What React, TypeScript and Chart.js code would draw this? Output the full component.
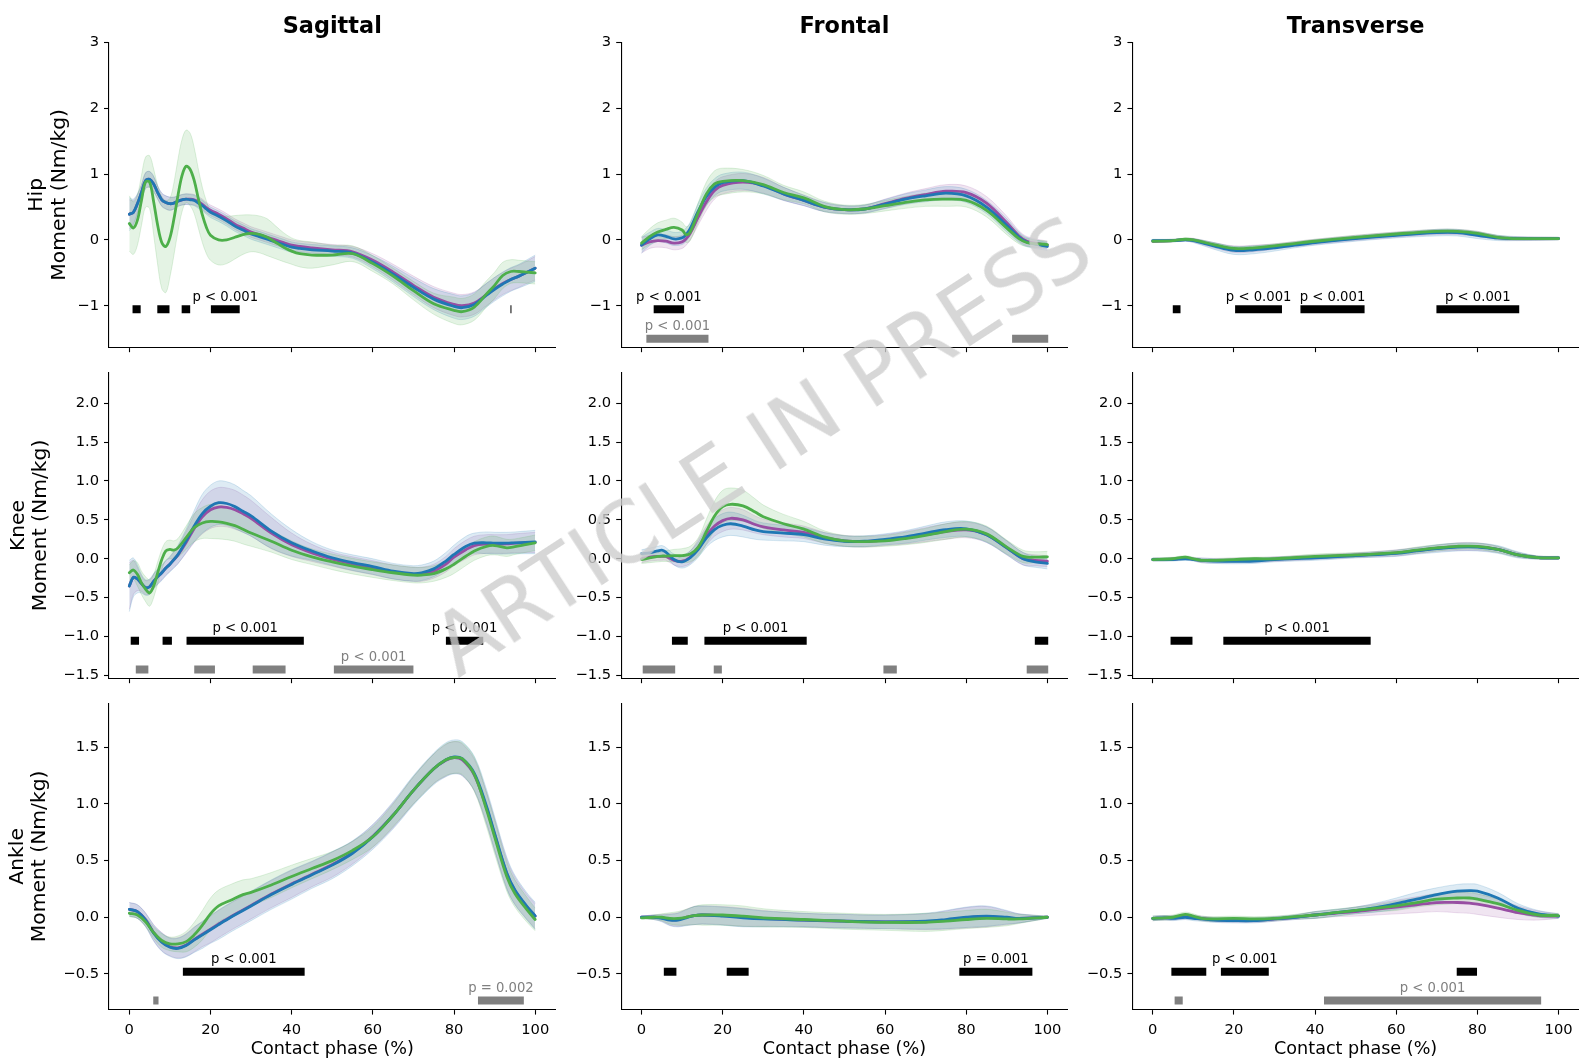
import React, { useEffect, useRef } from 'react';
import { Chart, registerables } from 'chart.js';

Chart.register(...registerables);

const FONT = '"DejaVu Sans", Verdana, sans-serif';
const PURPLE = '#984ea3';
const BLUE = '#1f77b4';
const GREEN = '#4daf4a';
const GRAYBAR = '#808080';

// ---------- Tick / axis definitions ----------
const COL_TITLES = ['Sagittal', 'Frontal', 'Transverse'];
const ROW_LABELS = [['Hip', 'Moment (Nm/kg)'], ['Knee', 'Moment (Nm/kg)'], ['Ankle', 'Moment (Nm/kg)']];
const X_LABEL = 'Contact phase (%)';
const X_TICKS = [0, 20, 40, 60, 80, 100];
const Y_TICKS_HIP = [-1, 0, 1, 2, 3];
const Y_TICKS_KNEE = [-1.5, -1, -0.5, 0, 0.5, 1, 1.5, 2];
const Y_TICKS_ANKLE = [-0.5, 0, 0.5, 1, 1.5];
const Y_MIN = [-1.63, -1.535, -0.815];
const Y_MAX = [3.0, 2.39, 1.89];
const BLACK_Y = [-1.055, -1.055, -0.48];
const GRAY_Y = [-1.5, -1.425, -0.734];

// ---------- Hip sagittal ----------
const HS_X = [0,1,2,3,4,5,6,7,8,9,10,11,12,13,14,15,16,17,18,19,20,22,24,26,28,30,32,34,36,38,40,42,45,50,55,60,65,70,75,80,82,85,88,90,92,94,96,98,100];
const HS_BLU = [0.39,0.42,0.55,0.72,0.90,0.92,0.85,0.72,0.61,0.57,0.55,0.56,0.59,0.61,0.62,0.61,0.60,0.56,0.52,0.47,0.42,
  0.36,0.29,0.21,0.15,0.09,0.05,0.01,-0.03,-0.07,-0.11,-0.13,
  -0.15,-0.17,-0.20,-0.34,-0.52,-0.72,-0.90,-1.01,
  -1.03,-0.98,-0.84,-0.75,-0.67,-0.60,-0.55,-0.49,-0.43];
const HS_PUR = [0.39,0.42,0.55,0.72,0.90,0.92,0.85,0.72,0.61,0.57,0.55,0.56,0.59,0.61,0.62,0.62,0.61,0.58,0.54,0.49,0.45,
  0.39,0.32,0.24,0.18,0.12,0.08,0.04,0.0,-0.04,-0.08,-0.10,
  -0.12,-0.15,-0.18,-0.31,-0.49,-0.69,-0.87,-0.98,
  -1.0,-0.96,-0.83,-0.74,-0.66,-0.6,-0.55,-0.49,-0.43];
const HS_GRN = [0.25,0.18,0.30,0.60,0.88,0.88,0.58,0.22,-0.04,-0.10,0.03,0.32,0.68,0.98,1.12,1.07,0.90,0.63,0.38,0.19,0.07,
  0.0,0.0,0.04,0.08,0.10,0.085,0.04,-0.035,-0.11,-0.17,-0.21,
  -0.23,-0.23,-0.21,-0.36,-0.55,-0.77,-0.97,-1.07,
  -1.09,-1.02,-0.82,-0.69,-0.54,-0.48,-0.48,-0.49,-0.50];
const HS_SD_BLU = [0.25,0.2,0.15,0.12,0.12,0.12,0.12,0.1,0.1,0.1,0.1,0.09,0.08,0.08,0.08,0.08,0.08,0.08,0.08,0.08,0.08,
  0.08,0.08,0.08,0.08,0.08,0.08,0.08,0.08,0.08,0.08,0.08,
  0.08,0.08,0.08,0.1,0.12,0.14,0.16,0.18,
  0.18,0.18,0.18,0.18,0.18,0.18,0.18,0.19,0.2];
const HS_SD_PUR = [0.22,0.18,0.14,0.12,0.12,0.12,0.11,0.1,0.1,0.1,0.1,0.09,0.08,0.08,0.08,0.08,0.08,0.08,0.08,0.08,0.08,
  0.08,0.08,0.08,0.08,0.08,0.08,0.08,0.08,0.08,0.08,0.08,
  0.08,0.08,0.08,0.1,0.12,0.14,0.16,0.17,
  0.17,0.17,0.17,0.17,0.17,0.17,0.17,0.17,0.18];
const HS_SD_GRN = [0.42,0.40,0.38,0.38,0.38,0.40,0.50,0.60,0.70,0.70,0.60,0.55,0.55,0.55,0.55,0.55,0.50,0.45,0.42,0.40,0.38,
  0.38,0.36,0.33,0.30,0.28,0.28,0.28,0.25,0.22,0.20,0.20,
  0.20,0.15,0.12,0.12,0.12,0.14,0.16,0.20,
  0.20,0.20,0.20,0.20,0.20,0.18,0.17,0.17,0.17];
const HS_BLACK = [[0.8,2.8],[6.9,9.9],[12.9,15.0],[20.1,27.2],[93.9,94.15]];
const HS_GRAY: number[][] = [];
const HS_TEXT = [{ x: 23.65, label: 'p < 0.001', gray: false }];

// ---------- Hip frontal ----------
const HF_X = [0,2,4,6,8,10,11,12,14,16,18,20,25,30,35,40,45,50,55,60,65,70,75,80,85,90,93,95,100];
const HF_BLU = [-0.08,0.015,0.075,0.055,0.015,0.03,0.08,0.17,0.44,0.66,0.8,0.87,0.9,0.82,0.7,0.6,0.5,0.46,0.47,0.545,0.62,0.67,0.71,0.67,0.5,0.22,0.04,-0.035,-0.1];
const HF_PUR = [-0.08,-0.03,-0.01,-0.02,-0.05,-0.03,0.02,0.1,0.35,0.58,0.75,0.83,0.88,0.83,0.7,0.6,0.5,0.46,0.47,0.55,0.63,0.69,0.74,0.72,0.56,0.26,0.06,-0.02,-0.08];
const HF_GRN = [-0.05,0.05,0.12,0.16,0.19,0.15,0.08,0.12,0.42,0.7,0.85,0.89,0.9,0.84,0.72,0.64,0.51,0.46,0.47,0.52,0.57,0.61,0.62,0.6,0.45,0.18,0.02,-0.04,-0.07];
const HF_SD_BLU = [0.12,0.1,0.1,0.1,0.1,0.1,0.1,0.1,0.12,0.13,0.13,0.13,0.13,0.12,0.1,0.08,0.07,0.06,0.06,0.07,0.08,0.09,0.1,0.1,0.1,0.1,0.08,0.07,0.06];
const HF_SD_PUR = [0.12,0.1,0.1,0.1,0.1,0.1,0.1,0.1,0.12,0.13,0.13,0.13,0.13,0.12,0.1,0.08,0.07,0.06,0.06,0.07,0.08,0.09,0.1,0.1,0.1,0.1,0.08,0.07,0.06];
const HF_SD_GRN = [0.1,0.12,0.14,0.14,0.14,0.12,0.12,0.13,0.15,0.18,0.2,0.2,0.17,0.14,0.11,0.09,0.08,0.07,0.07,0.08,0.09,0.1,0.11,0.1,0.1,0.1,0.08,0.06,0.05];
const HF_BLACK = [[3.0,10.5]];
const HF_GRAY = [[1.2,16.5],[91.3,100.2]];
const HF_TEXT = [{ x: 6.75, label: 'p < 0.001', gray: false }, { x: 8.85, label: 'p < 0.001', gray: true }];

// ---------- Hip transverse ----------
const HT_X = [0,5,8,10,15,20,25,30,35,40,50,60,70,75,80,85,90,100];
const HT_BLU = [-0.01,-0.01,0.0,-0.01,-0.09,-0.16,-0.15,-0.12,-0.08,-0.04,0.02,0.07,0.11,0.11,0.07,0.03,0.02,0.02];
const HT_PUR = [-0.02,-0.01,0.005,-0.005,-0.08,-0.14,-0.13,-0.1,-0.065,-0.03,0.03,0.08,0.12,0.12,0.09,0.035,0.02,0.02];
const HT_GRN = [-0.02,-0.01,0.01,0.0,-0.07,-0.13,-0.12,-0.09,-0.055,-0.02,0.04,0.09,0.13,0.13,0.1,0.04,0.02,0.02];
const HT_SD_BLU = [0.02,0.02,0.02,0.03,0.05,0.06,0.06,0.05,0.04,0.04,0.04,0.04,0.05,0.05,0.05,0.04,0.03,0.02];
const HT_SD_PUR = [0.02,0.02,0.02,0.03,0.04,0.05,0.05,0.04,0.04,0.04,0.04,0.04,0.04,0.04,0.04,0.03,0.03,0.02];
const HT_SD_GRN = [0.02,0.02,0.02,0.02,0.03,0.03,0.03,0.03,0.03,0.03,0.03,0.03,0.03,0.03,0.03,0.03,0.02,0.02];
const HT_BLACK = [[4.95,6.85],[20.3,31.85],[36.4,52.2],[69.9,90.3]];
const HT_GRAY: number[][] = [];
const HT_TEXT = [{ x: 26.1, label: 'p < 0.001', gray: false }, { x: 44.3, label: 'p < 0.001', gray: false }, { x: 80.1, label: 'p < 0.001', gray: false }];

// ---------- Knee sagittal ----------
const KS_X = [0,1,2,3,4,5,6,7,8,9,10,11,12,14,16,18,20,22,24,26,28,30,35,40,45,50,55,60,65,70,72,75,78,80,83,85,88,90,93,95,100];
const KS_BLU = [-0.35,-0.24,-0.26,-0.32,-0.37,-0.36,-0.29,-0.23,-0.18,-0.12,-0.07,-0.01,0.055,
  0.23,0.42,0.58,0.675,0.72,0.71,0.67,0.61,0.55,
  0.355,0.205,0.1,0.013,-0.05,-0.1,-0.16,-0.19,
  -0.18,-0.13,-0.03,0.055,0.16,0.2,0.205,0.2,0.2,0.205,0.215];
const KS_PUR = [-0.35,-0.24,-0.26,-0.32,-0.37,-0.36,-0.29,-0.23,-0.18,-0.12,-0.07,-0.01,0.05,
  0.21,0.39,0.54,0.63,0.665,0.66,0.63,0.58,0.52,
  0.33,0.18,0.075,-0.005,-0.065,-0.115,-0.17,-0.2,
  -0.2,-0.16,-0.07,0.02,0.12,0.17,0.19,0.19,0.19,0.2,0.21];
const KS_GRN = [-0.18,-0.145,-0.2,-0.31,-0.39,-0.44,-0.35,-0.18,-0.01,0.1,0.12,0.11,0.14,
  0.27,0.4,0.46,0.48,0.475,0.455,0.425,0.38,0.33,
  0.225,0.11,0.025,-0.04,-0.095,-0.14,-0.18,-0.21,
  -0.21,-0.19,-0.13,-0.07,0.035,0.1,0.16,0.17,0.14,0.155,0.205];
const KS_SD_BLU = [0.33,0.25,0.18,0.12,0.1,0.1,0.1,0.1,0.1,0.1,0.1,0.11,0.12,
  0.15,0.2,0.25,0.27,0.28,0.28,0.28,0.27,0.26,
  0.22,0.17,0.12,0.1,0.1,0.1,0.1,0.1,
  0.1,0.1,0.11,0.12,0.13,0.13,0.14,0.14,0.14,0.14,0.15];
const KS_SD_PUR = [0.3,0.22,0.15,0.1,0.09,0.09,0.09,0.09,0.09,0.09,0.09,0.1,0.11,
  0.14,0.18,0.22,0.24,0.25,0.25,0.25,0.24,0.23,
  0.2,0.15,0.11,0.09,0.09,0.09,0.09,0.09,
  0.09,0.09,0.1,0.11,0.12,0.12,0.12,0.12,0.12,0.12,0.13];
const KS_SD_GRN = [0.1,0.12,0.15,0.15,0.16,0.17,0.15,0.14,0.13,0.12,0.12,0.12,0.12,
  0.15,0.18,0.2,0.22,0.22,0.21,0.2,0.19,0.17,
  0.14,0.12,0.1,0.1,0.1,0.1,0.1,0.1,
  0.1,0.1,0.11,0.12,0.12,0.12,0.12,0.12,0.11,0.1,0.1];
const KS_BLACK = [[0.35,2.4],[8.2,10.5],[14.1,43.0],[78.0,87.2]];
const KS_GRAY = [[1.6,4.7],[16.0,21.1],[30.4,38.5],[50.4,70.0]];
const KS_TEXT = [{ x: 28.55, label: 'p < 0.001', gray: false }, { x: 82.6, label: 'p < 0.001', gray: false }, { x: 60.2, label: 'p < 0.001', gray: true }];

// ---------- Knee frontal ----------
const KF_X = [0,2,4,5,6,8,10,12,14,16,18,20,22,25,28,30,35,40,45,50,55,60,65,70,75,80,85,90,94,97,100];
const KF_BLU = [0.065,0.077,0.1,0.11,0.085,-0.01,-0.04,0.013,0.12,0.27,0.375,0.43,0.45,0.42,0.37,0.35,0.33,0.31,0.255,0.225,0.225,0.25,0.28,0.33,0.375,0.385,0.31,0.14,0.0,-0.04,-0.06];
const KF_PUR = [0.0,0.02,0.03,0.03,0.03,-0.02,-0.03,0.02,0.15,0.3,0.42,0.49,0.52,0.5,0.44,0.41,0.37,0.34,0.27,0.23,0.22,0.24,0.27,0.31,0.35,0.37,0.31,0.14,0.0,-0.02,-0.03];
const KF_GRN = [-0.01,0.01,0.03,0.035,0.035,0.04,0.04,0.06,0.15,0.35,0.55,0.67,0.7,0.68,0.6,0.54,0.45,0.38,0.28,0.23,0.22,0.23,0.26,0.3,0.35,0.38,0.32,0.15,0.03,0.02,0.025];
const KF_SD_BLU = [0.05,0.06,0.06,0.06,0.06,0.07,0.08,0.09,0.1,0.12,0.14,0.15,0.15,0.14,0.12,0.11,0.1,0.09,0.08,0.07,0.07,0.07,0.08,0.09,0.1,0.1,0.1,0.09,0.08,0.07,0.07];
const KF_SD_PUR = [0.05,0.05,0.05,0.05,0.05,0.06,0.07,0.08,0.1,0.12,0.13,0.14,0.14,0.13,0.11,0.1,0.09,0.08,0.07,0.07,0.07,0.07,0.08,0.09,0.1,0.1,0.1,0.09,0.08,0.07,0.07];
const KF_SD_GRN = [0.05,0.06,0.07,0.07,0.07,0.08,0.09,0.1,0.12,0.16,0.19,0.21,0.21,0.2,0.17,0.15,0.12,0.1,0.08,0.07,0.07,0.07,0.08,0.09,0.1,0.1,0.1,0.09,0.08,0.07,0.07];
const KF_BLACK = [[7.5,11.4],[15.5,40.7],[96.9,100.2]];
const KF_GRAY = [[0.3,8.3],[17.8,19.8],[59.6,62.9],[94.9,100.2]];
const KF_TEXT = [{ x: 28.1, label: 'p < 0.001', gray: false }];

// ---------- Knee transverse ----------
const KT_X = [0,5,8,10,12,15,20,25,30,40,50,60,65,70,75,80,85,90,95,100];
const KT_BLU = [-0.01,-0.01,0.0,-0.01,-0.02,-0.03,-0.035,-0.03,-0.01,0.01,0.04,0.07,0.1,0.13,0.15,0.15,0.12,0.05,0.015,0.01];
const KT_PUR = [-0.01,-0.005,0.01,-0.005,-0.02,-0.025,-0.02,-0.015,-0.005,0.02,0.045,0.075,0.105,0.135,0.155,0.155,0.12,0.05,0.015,0.01];
const KT_GRN = [-0.01,0.0,0.02,0.0,-0.02,-0.02,-0.01,0.0,0.0,0.03,0.05,0.08,0.11,0.14,0.16,0.16,0.12,0.05,0.015,0.01];
const KT_SD_BLU = [0.02,0.02,0.02,0.02,0.03,0.03,0.03,0.03,0.03,0.03,0.03,0.04,0.04,0.05,0.05,0.05,0.05,0.04,0.02,0.02];
const KT_SD_PUR = [0.02,0.02,0.02,0.02,0.03,0.03,0.03,0.03,0.03,0.03,0.03,0.04,0.04,0.04,0.05,0.05,0.04,0.03,0.02,0.02];
const KT_SD_GRN = [0.02,0.02,0.02,0.02,0.02,0.02,0.02,0.02,0.02,0.03,0.03,0.03,0.04,0.04,0.04,0.04,0.04,0.03,0.02,0.02];
const KT_BLACK = [[4.4,9.8],[17.4,53.7]];
const KT_GRAY: number[][] = [];
const KT_TEXT = [{ x: 35.55, label: 'p < 0.001', gray: false }];

// ---------- Ankle sagittal ----------
const AS_X = [0,2,4,6,8,10,12,14,16,18,20,22,25,28,30,35,40,45,50,55,60,65,70,75,78,80,82,85,88,90,93,95,98,100];
const AS_BLU = [0.07,0.05,-0.024,-0.14,-0.22,-0.265,-0.275,-0.25,-0.2,-0.155,
  -0.11,-0.065,0.0,0.06,0.1,0.2,0.29,0.375,0.46,0.565,
  0.71,0.9,1.12,1.31,1.39,1.415,1.4,1.27,0.98,0.74,
  0.39,0.24,0.094,0.012];
const AS_PUR = [0.07,0.05,-0.02,-0.135,-0.215,-0.26,-0.27,-0.245,-0.195,-0.15,
  -0.105,-0.06,0.005,0.065,0.105,0.205,0.295,0.38,0.465,0.57,
  0.715,0.9,1.12,1.31,1.385,1.41,1.39,1.255,0.965,0.73,
  0.385,0.235,0.09,0.01];
const AS_GRN = [0.035,0.02,-0.04,-0.135,-0.205,-0.235,-0.235,-0.215,-0.155,-0.07,
  0.03,0.1,0.15,0.2,0.22,0.285,0.36,0.43,0.5,0.59,
  0.71,0.9,1.12,1.31,1.39,1.41,1.4,1.26,0.95,0.71,
  0.36,0.21,0.065,-0.02];
const AS_SD_BLU = [0.06,0.06,0.06,0.07,0.08,0.08,0.09,0.1,0.11,0.12,
  0.12,0.13,0.13,0.13,0.13,0.13,0.13,0.12,0.12,0.11,
  0.11,0.12,0.13,0.14,0.15,0.15,0.15,0.15,0.15,0.15,
  0.14,0.13,0.12,0.12];
const AS_SD_PUR = [0.06,0.06,0.06,0.07,0.08,0.08,0.09,0.1,0.11,0.11,
  0.12,0.12,0.12,0.12,0.12,0.12,0.12,0.11,0.11,0.1,
  0.1,0.11,0.12,0.13,0.14,0.14,0.14,0.14,0.14,0.14,
  0.13,0.12,0.11,0.11];
const AS_SD_GRN = [0.03,0.03,0.04,0.05,0.06,0.06,0.07,0.09,0.11,0.13,
  0.14,0.14,0.14,0.13,0.12,0.11,0.1,0.09,0.08,0.08,
  0.09,0.1,0.12,0.13,0.14,0.14,0.14,0.15,0.15,0.15,
  0.13,0.12,0.11,0.1];
const AS_BLACK = [[13.2,43.2]];
const AS_GRAY = [[5.9,7.2],[85.9,97.2]];
const AS_TEXT = [{ x: 28.2, label: 'p < 0.001', gray: false }, { x: 91.55, label: 'p = 0.002', gray: true }];

// ---------- Ankle frontal ----------
const AF_X = [0,3,5,7,9,11,13,15,20,25,30,40,50,60,70,75,80,85,90,93,100];
const AF_BLU = [0.0,0.0,-0.01,-0.025,-0.025,-0.005,0.015,0.02,0.01,-0.005,-0.015,-0.025,-0.035,-0.04,-0.035,-0.02,0.0,0.01,0.0,-0.01,0.0];
const AF_PUR = [0.0,0.0,-0.005,-0.02,-0.02,0.0,0.015,0.02,0.015,0.0,-0.01,-0.025,-0.035,-0.04,-0.04,-0.025,-0.005,0.005,-0.005,-0.01,0.0];
const AF_GRN = [-0.005,0.0,0.0,-0.01,-0.01,0.0,0.015,0.02,0.02,0.01,-0.005,-0.02,-0.035,-0.045,-0.045,-0.035,-0.02,-0.01,-0.015,-0.015,0.0];
const AF_SD_BLU = [0.01,0.02,0.03,0.05,0.06,0.07,0.08,0.08,0.08,0.08,0.07,0.06,0.06,0.06,0.07,0.08,0.09,0.09,0.06,0.04,0.01];
const AF_SD_PUR = [0.01,0.02,0.03,0.05,0.06,0.07,0.08,0.08,0.08,0.08,0.07,0.06,0.06,0.06,0.07,0.08,0.09,0.09,0.06,0.04,0.01];
const AF_SD_GRN = [0.01,0.02,0.03,0.05,0.06,0.07,0.08,0.09,0.09,0.09,0.08,0.07,0.07,0.07,0.08,0.08,0.08,0.08,0.06,0.04,0.01];
const AF_BLACK = [[5.5,8.6],[21.0,26.4],[78.3,96.3]];
const AF_GRAY: number[][] = [];
const AF_TEXT = [{ x: 87.3, label: 'p = 0.001', gray: false }];

// ---------- Ankle transverse ----------
const AT_X = [0,3,5,8,10,12,15,20,25,30,35,40,45,50,55,60,65,70,75,78,80,85,90,95,100];
const AT_BLU = [-0.01,-0.005,-0.01,0.0,-0.01,-0.015,-0.025,-0.03,-0.03,-0.015,0.0,0.02,0.04,0.06,0.085,0.12,0.16,0.2,0.23,0.235,0.23,0.17,0.08,0.03,0.01];
const AT_PUR = [-0.01,-0.005,-0.005,0.005,0.0,-0.01,-0.02,-0.025,-0.025,-0.015,0.0,0.02,0.035,0.05,0.07,0.09,0.11,0.13,0.13,0.125,0.115,0.08,0.04,0.015,0.01];
const AT_GRN = [-0.01,-0.005,0.0,0.025,0.01,-0.01,-0.015,-0.01,-0.015,-0.01,0.005,0.02,0.04,0.06,0.08,0.1,0.13,0.16,0.17,0.17,0.16,0.12,0.06,0.02,0.015];
const AT_SD_BLU = [0.02,0.02,0.02,0.02,0.02,0.02,0.02,0.02,0.02,0.02,0.02,0.03,0.03,0.03,0.04,0.05,0.06,0.06,0.06,0.06,0.06,0.05,0.04,0.03,0.02];
const AT_SD_PUR = [0.02,0.02,0.02,0.02,0.02,0.02,0.02,0.02,0.02,0.02,0.02,0.03,0.03,0.04,0.05,0.06,0.07,0.08,0.09,0.09,0.09,0.08,0.06,0.04,0.02];
const AT_SD_GRN = [0.02,0.02,0.02,0.02,0.02,0.02,0.02,0.02,0.02,0.02,0.02,0.03,0.03,0.03,0.03,0.04,0.04,0.05,0.05,0.05,0.05,0.04,0.03,0.02,0.02];
const AT_BLACK = [[4.6,13.2],[16.8,28.6],[74.9,79.9]];
const AT_GRAY = [[5.4,7.4],[42.2,95.7]];
const AT_TEXT = [{ x: 22.7, label: 'p < 0.001', gray: false }, { x: 68.95, label: 'p < 0.001', gray: true }];

type TextItem = { x: number; label: string; gray: boolean };
type PanelData = {
  x: number[]; pur: number[]; blu: number[]; grn: number[];
  sdPur: number[]; sdBlu: number[]; sdGrn: number[];
  black: number[][]; gray: number[][]; text: TextItem[];
};

const PANELS: PanelData[][] = [
  [
    { x: HS_X, pur: HS_PUR, blu: HS_BLU, grn: HS_GRN, sdPur: HS_SD_PUR, sdBlu: HS_SD_BLU, sdGrn: HS_SD_GRN, black: HS_BLACK, gray: HS_GRAY, text: HS_TEXT },
    { x: HF_X, pur: HF_PUR, blu: HF_BLU, grn: HF_GRN, sdPur: HF_SD_PUR, sdBlu: HF_SD_BLU, sdGrn: HF_SD_GRN, black: HF_BLACK, gray: HF_GRAY, text: HF_TEXT },
    { x: HT_X, pur: HT_PUR, blu: HT_BLU, grn: HT_GRN, sdPur: HT_SD_PUR, sdBlu: HT_SD_BLU, sdGrn: HT_SD_GRN, black: HT_BLACK, gray: HT_GRAY, text: HT_TEXT },
  ],
  [
    { x: KS_X, pur: KS_PUR, blu: KS_BLU, grn: KS_GRN, sdPur: KS_SD_PUR, sdBlu: KS_SD_BLU, sdGrn: KS_SD_GRN, black: KS_BLACK, gray: KS_GRAY, text: KS_TEXT },
    { x: KF_X, pur: KF_PUR, blu: KF_BLU, grn: KF_GRN, sdPur: KF_SD_PUR, sdBlu: KF_SD_BLU, sdGrn: KF_SD_GRN, black: KF_BLACK, gray: KF_GRAY, text: KF_TEXT },
    { x: KT_X, pur: KT_PUR, blu: KT_BLU, grn: KT_GRN, sdPur: KT_SD_PUR, sdBlu: KT_SD_BLU, sdGrn: KT_SD_GRN, black: KT_BLACK, gray: KT_GRAY, text: KT_TEXT },
  ],
  [
    { x: AS_X, pur: AS_PUR, blu: AS_BLU, grn: AS_GRN, sdPur: AS_SD_PUR, sdBlu: AS_SD_BLU, sdGrn: AS_SD_GRN, black: AS_BLACK, gray: AS_GRAY, text: AS_TEXT },
    { x: AF_X, pur: AF_PUR, blu: AF_BLU, grn: AF_GRN, sdPur: AF_SD_PUR, sdBlu: AF_SD_BLU, sdGrn: AF_SD_GRN, black: AF_BLACK, gray: AF_GRAY, text: AF_TEXT },
    { x: AT_X, pur: AT_PUR, blu: AT_BLU, grn: AT_GRN, sdPur: AT_SD_PUR, sdBlu: AT_SD_BLU, sdGrn: AT_SD_GRN, black: AT_BLACK, gray: AT_GRAY, text: AT_TEXT },
  ],
];
const Y_TICKS = [Y_TICKS_HIP, Y_TICKS_KNEE, Y_TICKS_ANKLE];

// ---------- Layout (pixels) ----------
const SPINE_X = [109, 621.2, 1132.4];
const CANVAS_LEFT = [0, 551, 1062];
const CANVAS_W = [562, 523, 522];
const PLOT_W = 446.5;
const ROW_TOP = [42.5, 372.8, 703.1];
const CANVAS_TOP = [0, 358, 689];
const CANVAS_H = [361, 334, 374];
const PLOT_H = 306.5;
const X_AXIS_H = [12, 12, 53.4];
const YLABEL_SIZE = 20.3;
const YLABEL_LH = 1.1;
const YLABEL_PAD = [25.9, 7.5, 6.5];

function rgba(hex: string, a: number) {
  const n = parseInt(hex.slice(1), 16);
  return `rgba(${(n >> 16) & 255},${(n >> 8) & 255},${n & 255},${a})`;
}

function fmtY(v: number, r: number) {
  const s = r === 0 ? Math.abs(v).toFixed(0) : Math.abs(v).toFixed(1);
  return (v < -1e-9 ? '\u2212' : '') + s;
}

function buildDatasets(p: PanelData, r: number) {
  const pts = (ys: number[]) => p.x.map((x, i) => ({ x, y: ys[i] ?? ys[ys.length - 1] }));
  const band = (m: number[], s: number[], sign: number) =>
    p.x.map((x, i) => ({ x, y: (m[i] ?? 0) + sign * (s[i] ?? 0) }));
  const line = (data: any[], color: string, order: number) => ({
    data, borderColor: color, borderWidth: 2.8, pointRadius: 0, tension: 0.35, fill: false, order,
    borderJoinStyle: 'round', borderCapStyle: 'round',
  });
  const bandPair = (m: number[], s: number[], color: string, order: number) => [
    { data: band(m, s, 1), borderColor: rgba(color, 0.22), borderWidth: 0.8, backgroundColor: rgba(color, 0.15), fill: '+1', pointRadius: 0, tension: 0.35, order },
    { data: band(m, s, -1), borderColor: rgba(color, 0.22), borderWidth: 0.8, backgroundColor: 'rgba(0,0,0,0)', fill: false, pointRadius: 0, tension: 0.35, order },
  ];
  const bar = (seg: number[], y: number, color: string) => ({
    data: [{ x: seg[0], y }, { x: seg[1], y }], borderColor: color, borderWidth: 8,
    borderCapStyle: 'butt', pointRadius: 0, tension: 0, fill: false, order: 0,
  });
  return [
    line(pts(p.grn), GREEN, 0),
    line(pts(p.blu), BLUE, 1),
    line(pts(p.pur), PURPLE, 2),
    ...bandPair(p.grn, p.sdGrn, GREEN, 3),
    ...bandPair(p.blu, p.sdBlu, BLUE, 4),
    ...bandPair(p.pur, p.sdPur, PURPLE, 5),
    ...p.black.map((s) => bar(s, BLACK_Y[r], '#000000')),
    ...p.gray.map((s) => bar(s, GRAY_Y[r], GRAYBAR)),
  ];
}

function makeConfig(r: number, c: number): any {
  const p = PANELS[r][c];
  const axisW = SPINE_X[c] - CANVAS_LEFT[c];
  const padTop = ROW_TOP[r] - CANVAS_TOP[r];
  const padRight = CANVAS_W[c] - axisW - PLOT_W;
  const padBottom = Math.max(0, CANVAS_H[r] - padTop - PLOT_H - X_AXIS_H[r]);

  const annot = {
    id: 'annot',
    afterDatasetsDraw(chart: any) {
      const { ctx, chartArea } = chart;
      const xs = chart.scales.x;
      const ys = chart.scales.y;
      ctx.save();
      ctx.font = `13.2px ${FONT}`;
      ctx.textAlign = 'center';
      ctx.textBaseline = 'alphabetic';
      p.text.forEach((t) => {
        ctx.fillStyle = t.gray ? GRAYBAR : '#000000';
        const y = ys.getPixelForValue(t.gray ? GRAY_Y[r] : BLACK_Y[r]) - 8.5;
        ctx.fillText(t.label, xs.getPixelForValue(t.x), y);
      });
      if (r === 0) {
        ctx.font = `bold 22.4px ${FONT}`;
        ctx.fillStyle = '#000000';
        ctx.textBaseline = 'middle';
        ctx.fillText(COL_TITLES[c], (chartArea.left + chartArea.right) / 2, 27.5);
      }
      ctx.restore();
    },
  };

  const gridOpts = { display: true, drawOnChartArea: false, drawTicks: true, tickLength: 5, tickWidth: 1.1, tickColor: '#000000' };
  const borderOpts = { display: true, color: '#000000', width: 1.1 };

  return {
    type: 'line',
    data: { datasets: buildDatasets(p, r) },
    options: {
      animation: false,
      responsive: false,
      maintainAspectRatio: false,
      events: [],
      layout: { padding: { left: 0, top: padTop, right: padRight, bottom: padBottom } },
      plugins: { legend: { display: false }, tooltip: { enabled: false }, title: { display: false } },
      scales: {
        x: {
          type: 'linear', min: -5, max: 105,
          afterBuildTicks: (s: any) => { s.ticks = X_TICKS.map((v) => ({ value: v })); },
          afterFit: (s: any) => { s.height = X_AXIS_H[r]; },
          ticks: {
            autoSkip: false, maxRotation: 0, padding: 7, color: '#000000',
            font: { family: FONT, size: 14.7 },
            callback: (v: any) => (r === 2 ? String(v) : ''),
          },
          grid: gridOpts,
          border: borderOpts,
          title: r === 2
            ? { display: true, text: X_LABEL, color: '#000000', font: { family: FONT, size: 17.6, lineHeight: 1.25 }, padding: { top: 0, bottom: 2.5 } }
            : { display: false },
        },
        y: {
          type: 'linear', min: Y_MIN[r], max: Y_MAX[r],
          afterBuildTicks: (s: any) => { s.ticks = Y_TICKS[r].map((v) => ({ value: v })); },
          afterFit: (s: any) => { s.width = axisW; },
          ticks: {
            autoSkip: false, padding: 5, color: '#000000',
            font: { family: FONT, size: 14.7 },
            callback: (v: any) => fmtY(Number(v), r),
          },
          grid: gridOpts,
          border: borderOpts,
          title: c === 0
            ? { display: true, text: ROW_LABELS[r], color: '#000000', font: { family: FONT, size: YLABEL_SIZE, lineHeight: YLABEL_LH }, padding: { top: YLABEL_PAD[r], bottom: 0 } }
            : { display: false },
        },
      },
    },
    plugins: [annot],
  };
}

function Panel({ r, c }: { r: number; c: number }) {
  const ref = useRef<HTMLCanvasElement>(null);
  useEffect(() => {
    if (!ref.current) return;
    const chart = new Chart(ref.current, makeConfig(r, c));
    return () => chart.destroy();
  }, [r, c]);
  return (
    <canvas
      ref={ref}
      width={CANVAS_W[c]}
      height={CANVAS_H[r]}
      style={{ position: 'absolute', left: CANVAS_LEFT[c], top: CANVAS_TOP[r], width: CANVAS_W[c], height: CANVAS_H[r] }}
    />
  );
}

export default function App() {
  const cells: JSX.Element[] = [];
  for (let r = 0; r < 3; r++) for (let c = 0; c < 3; c++) cells.push(<Panel key={`${r}-${c}`} r={r} c={c} />);
  return (
    <div style={{ position: 'absolute', left: 0, top: 0, width: 1584, height: 1063, overflow: 'hidden', background: '#ffffff' }}>
      {cells}
      <div
        style={{
          position: 'absolute', left: 762, top: 446,
          transform: 'translate(-50%, -50%) rotate(-33deg)',
          fontFamily: FONT, fontSize: 85, lineHeight: 1, whiteSpace: 'nowrap',
          color: 'rgba(205,205,205,0.8)', pointerEvents: 'none', zIndex: 10,
        }}
      >
        ARTICLE IN PRESS
      </div>
    </div>
  );
}
